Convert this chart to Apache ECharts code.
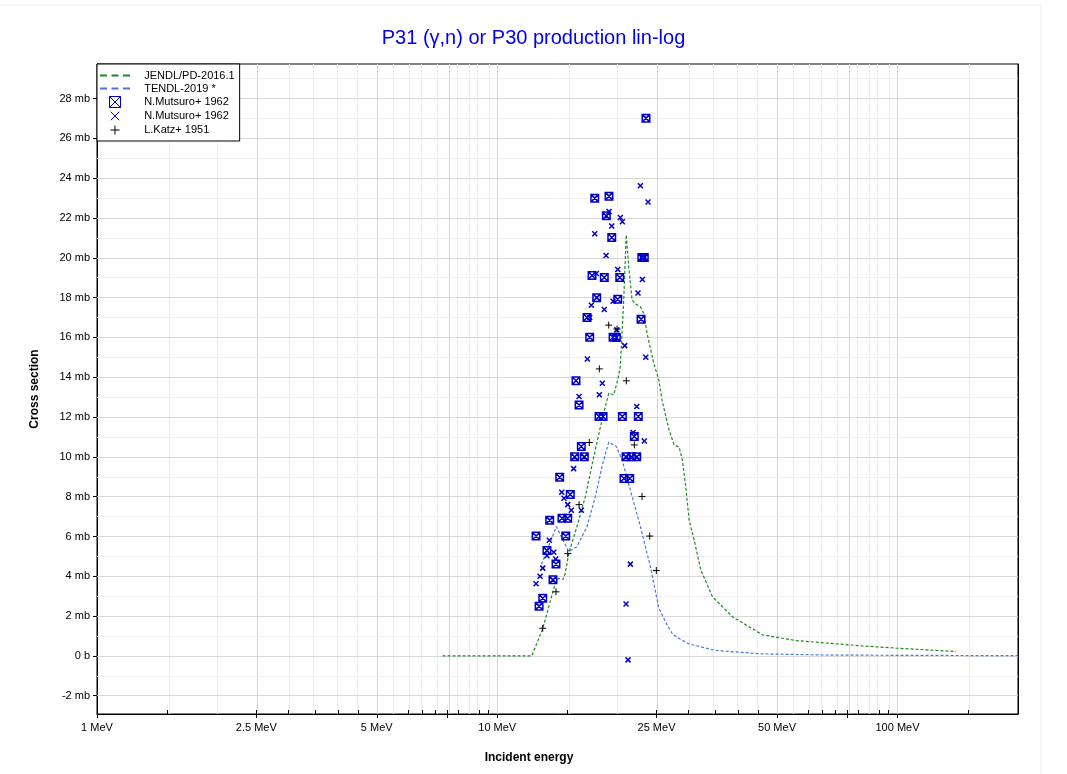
<!DOCTYPE html>
<html>
<head>
<meta charset="utf-8">
<script src="https://cdn.jsdelivr.net/npm/echarts@6/dist/echarts.min.js"></script>
<style>html,body{margin:0;padding:0;background:#fff}#chart{width:1067px;height:774px}</style>
</head>
<body>
<div id="chart"></div>
<script>
// ---------- data (energy in MeV, cross section in mb) ----------
const jendlE  = [7.3, 12.2, 13.0, 13.96, 14.24, 14.6, 14.79, 15.09, 15.82, 16.6, 17.42, 18.27, 18.99, 19.54, 20.0, 20.3, 20.7, 21.0, 21.3, 21.72, 22.13, 22.78, 23.23, 23.68, 24.6, 25.33, 25.8, 26.86, 27.66, 28.47, 29.0, 29.58, 30.15, 31.03, 32.25, 34.47, 38.68, 45.97, 55.7, 81.7, 99.1, 140];
const jendlXS = [0, 0, 1.39, 3.65, 3.9, 3.85, 4.15, 5.16, 6.5, 8.0, 10.0, 11.86, 13.2, 13.12, 13.87, 14.54, 17.89, 21.16, 19.56, 17.89, 17.69, 17.55, 17.22, 16.2, 14.7, 13.87, 12.86, 11.36, 10.6, 10.49, 9.85, 8.5, 6.83, 5.83, 4.32, 2.98, 1.97, 1.06, 0.77, 0.5, 0.39, 0.22];

const tendlE  = [12.9, 14.05, 15.09, 15.82, 16.76, 17.58, 18.27, 18.99, 19.84, 20.5, 21.5, 22.78, 24.13, 25.33, 26.5, 27.4, 28.6, 30.13, 35.16, 45.97, 67.5, 200];
const tendlXS = [4.6, 6.5, 5.24, 5.49, 6.5, 8.0, 9.51, 10.74, 10.52, 9.85, 8.34, 6.5, 4.49, 2.4, 1.6, 1.1, 0.85, 0.6, 0.27, 0.1, 0.04, 0.01];

const mutsuroBoxE  = [23.53, 17.52, 19.02, 18.73, 19.32, 22.97, 23.3, 17.25, 18.51, 20.23, 17.72, 20.0, 16.76, 22.87, 17.02, 19.47, 19.84, 15.73, 16.01, 17.96, 18.38, 20.54, 22.51, 22.0, 16.22, 15.61, 16.5, 20.98, 21.63, 22.31, 14.32, 20.73, 21.43, 15.22, 13.52, 14.51, 15.0, 12.5, 14.83, 13.31, 14.02, 13.78, 12.99, 12.72];
const mutsuroBoxXS = [27.02, 23.0, 23.1, 22.11, 21.02, 20.02, 20.02, 19.11, 19.01, 19.01, 18.0, 17.92, 17.0, 16.92, 16.01, 16.01, 16.0, 13.82, 12.61, 12.03, 12.03, 12.03, 12.03, 11.02, 10.52, 10.0, 10.0, 10.0, 10.0, 10.0, 8.98, 8.91, 8.91, 8.11, 6.82, 6.92, 6.92, 6.02, 6.02, 5.29, 4.62, 3.82, 2.9, 2.5];

const mutsuroCrossE  = [22.78, 23.81, 19.02, 20.3, 20.54, 19.32, 17.52, 18.7, 20.0, 17.68, 23.04, 22.47, 19.47, 17.18, 18.51, 17.02, 19.89, 20.82, 16.79, 23.5, 18.3, 16.01, 17.99, 22.31, 21.84, 23.3, 15.52, 14.49, 14.68, 15.0, 15.31, 16.22, 13.49, 13.84, 13.31, 14.0, 12.99, 12.79, 12.5, 21.5, 20.98, 21.22];
const mutsuroCrossXS = [23.62, 22.81, 22.33, 22.03, 21.81, 21.6, 21.21, 20.12, 19.41, 19.21, 18.91, 18.23, 17.82, 17.62, 17.4, 17.0, 16.38, 15.59, 14.92, 15.01, 13.7, 13.03, 13.12, 12.53, 11.22, 10.8, 9.41, 8.22, 7.92, 7.6, 7.32, 7.32, 5.81, 5.21, 5.03, 4.87, 4.41, 4.0, 3.62, 4.61, 2.61, -0.2];

const katzE  = [18.99, 19.92, 17.99, 21.01, 16.98, 22.0, 16.01, 23.0, 24.04, 24.97, 15.0, 14.02, 12.99];
const katzXS = [16.62, 16.42, 14.42, 13.82, 10.72, 10.6, 7.6, 8.01, 6.02, 4.29, 5.14, 3.22, 1.39];

// ---------- axis ticks ----------
const xLabelValues = [1, 2.5, 5, 10, 25, 50, 100];
const xMajorTickValues = [1, 2.5, 5, 7.5, 10, 25, 50, 75, 100];
const xMinorTickValues = [1.5, 2, 3, 3.5, 4, 4.5, 5.5, 6, 6.5, 7, 8, 8.5, 9, 9.5, 15, 20, 30, 35, 40, 45, 55, 60, 65, 70, 80, 85, 90, 95, 150];
const yLabelValues = [-2, 0, 2, 4, 6, 8, 10, 12, 14, 16, 18, 20, 22, 24, 26, 28];
const yMinorTickValues = [-1, 1, 3, 5, 7, 9, 11, 13, 15, 17, 19, 21, 23, 25, 27, 29];

// ---------- build ----------
const L = Math.log10;
const XMIN = 0, XMAX = L(200);
const YMIN = -2.92, YMAX = 29.74;
const FONT = 'Liberation Sans, Arial, sans-serif';
const GREEN = '#1e8a1e', TBLUE = '#4a78e0', MBLUE = '#0000c8';

const pts = (E, S) => E.map((e, i) => [L(e), S[i]]);

const BOX_PATH = 'path://M0,0L10,0L10,10L0,10Z M0,0L10,10 M10,0L0,10';
const X_PATH = 'path://M0,0L10,10 M10,0L0,10';
const PLUS_PATH = 'path://M5,0L5,10 M0,5L10,5';
const DASH_ICON = 'path://M0,0h7v2h-7z M11.5,0h7v2h-7z M23,0h7v2h-7z';
const X_ICON = 'path://M-1.5,-1.5 M0,0L10,10 M10,0L0,10 M11.5,11.5';
const PLUS_ICON = 'path://M-1,-1 M5,0L5,10 M0,5L10,5 M11,11';

const gridLines = [];
xMajorTickValues.filter(v => v > 1).forEach(v => gridLines.push({xAxis: L(v), lineStyle: {color: '#d4d4d4'}}));
xMinorTickValues.forEach(v => gridLines.push({xAxis: L(v), lineStyle: {color: '#efefef'}}));
yLabelValues.forEach(v => gridLines.push({yAxis: v, lineStyle: {color: '#d8d8d8'}}));
yMinorTickValues.forEach(v => gridLines.push({yAxis: v, lineStyle: {color: '#f0f0f0'}}));

const allYTicks = yLabelValues.concat(yMinorTickValues);
const allXTicks = xMajorTickValues.concat(xMinorTickValues).map(L);

const chart = echarts.init(document.getElementById('chart'), null, {renderer: 'canvas'});
chart.setOption({
  animation: false,
  backgroundColor: '#fff',
  textStyle: {fontFamily: FONT},
  title: {
    text: 'P31 (γ,n) or P30 production lin-log',
    left: 'center', top: 23,
    textStyle: {color: '#0000ee', fontSize: 20, fontWeight: 'normal', fontFamily: FONT}
  },
  graphic: [
    {type: 'rect', silent: true, z: -10, shape: {x: -2, y: 5, width: 1043, height: 780}, style: {fill: 'none', stroke: '#ebebeb', lineWidth: 1}},
    {type: 'text', silent: true, x: 529, y: 758, style: {text: 'Incident energy', fontSize: 12, fontWeight: 'bold', fontFamily: FONT, fill: '#000', align: 'center', verticalAlign: 'middle'}}
  ],
  grid: {left: 97, right: 49, top: 64, bottom: 60, show: true, borderColor: '#000', borderWidth: 1, backgroundColor: '#fff'},
  legend: {
    orient: 'vertical', left: 97, top: 64,
    padding: [6, 5, 5, 3], itemGap: 2, itemWidth: 30, itemHeight: 11,
    backgroundColor: '#fff', borderColor: '#000', borderWidth: 1,
    textStyle: {fontSize: 11, color: '#000', fontFamily: FONT},
    formatter: n => '   ' + n.replace(' (b)', ''),
    selectedMode: false,
    data: [
      {name: 'JENDL/PD-2016.1', icon: DASH_ICON, itemStyle: {color: GREEN, borderWidth: 0}},
      {name: 'TENDL-2019 *', icon: DASH_ICON, itemStyle: {color: TBLUE, borderWidth: 0}},
      {name: 'N.Mutsuro+ 1962', icon: BOX_PATH, itemStyle: {color: 'transparent', borderColor: MBLUE, borderWidth: 1}},
      {name: 'N.Mutsuro+ 1962 (b)', icon: X_ICON, itemStyle: {color: 'transparent', borderColor: MBLUE, borderWidth: 1}},
      {name: 'L.Katz+ 1951', icon: PLUS_ICON, itemStyle: {color: 'transparent', borderColor: '#000', borderWidth: 1}}
    ]
  },
  xAxis: [
    {
      type: 'value', min: XMIN, max: XMAX, position: 'bottom',
      axisLine: {show: true, onZero: false, lineStyle: {color: '#000', width: 1}},
      axisTick: {show: true, inside: false, length: 4, customValues: xMajorTickValues.map(L), lineStyle: {color: '#000'}},
      axisLabel: {
        customValues: xLabelValues.map(L), margin: 8, fontSize: 11, color: '#000', fontFamily: FONT,
        formatter: v => parseFloat(Math.pow(10, v).toPrecision(6)) + ' MeV'
      },
      splitLine: {show: false}
    },
    {
      type: 'value', min: XMIN, max: XMAX, position: 'bottom',
      axisLine: {show: false, onZero: false},
      axisTick: {show: true, inside: true, length: 4, customValues: allXTicks, lineStyle: {color: '#000'}},
      axisLabel: {show: false},
      splitLine: {show: false}
    }
  ],
  yAxis: [
    {
      type: 'value', min: YMIN, max: YMAX, position: 'left',
      name: 'Cross section', nameLocation: 'middle', nameGap: 56,
      nameTextStyle: {fontSize: 12, fontWeight: 'bold', color: '#000', fontFamily: FONT},
      axisLine: {show: true, onZero: false, lineStyle: {color: '#000', width: 1}},
      axisTick: {show: true, inside: false, length: 4, customValues: yLabelValues, lineStyle: {color: '#000'}},
      axisLabel: {
        customValues: yLabelValues, margin: 7, fontSize: 11, color: '#000', fontFamily: FONT,
        formatter: v => (v === 0 ? '0 b' : v + ' mb')
      },
      splitLine: {show: false}
    },
    {
      type: 'value', min: YMIN, max: YMAX, position: 'left',
      axisLine: {show: false, onZero: false},
      axisTick: {show: true, inside: true, length: 4, customValues: allYTicks, lineStyle: {color: '#000'}},
      axisLabel: {show: false},
      splitLine: {show: false}
    },
    {
      type: 'value', min: YMIN, max: YMAX, position: 'right',
      axisLine: {show: true, onZero: false, lineStyle: {color: '#000', width: 1}},
      axisTick: {show: true, inside: true, length: 4, customValues: allYTicks, lineStyle: {color: '#000'}},
      axisLabel: {show: false},
      splitLine: {show: false}
    }
  ],
  series: [
    {
      name: 'gridlines', type: 'line', data: [], z: 1, silent: true,
      xAxisIndex: 0, yAxisIndex: 0,
      markLine: {silent: true, z: 1, symbol: ['none', 'none'], label: {show: false}, emphasis: {disabled: true},
        lineStyle: {type: 'solid', width: 1}, data: gridLines}
    },
    {
      name: 'JENDL/PD-2016.1', type: 'line', z: 5, data: pts(jendlE, jendlXS),
      showSymbol: false, symbol: 'none', color: GREEN,
      lineStyle: {color: GREEN, width: 1.2, type: [3, 2]}, itemStyle: {color: GREEN}
    },
    {
      name: 'TENDL-2019 *', type: 'line', z: 4, data: pts(tendlE, tendlXS),
      showSymbol: false, symbol: 'none', color: TBLUE,
      lineStyle: {color: TBLUE, width: 1.2, type: [3, 2]}, itemStyle: {color: TBLUE}
    },
    {
      name: 'N.Mutsuro+ 1962', type: 'scatter', z: 6, data: pts(mutsuroBoxE, mutsuroBoxXS),
      symbol: BOX_PATH, symbolSize: 7.5,
      itemStyle: {color: 'transparent', borderColor: MBLUE, borderWidth: 1.5, opacity: 1}
    },
    {
      name: 'N.Mutsuro+ 1962 (b)', type: 'scatter', z: 6, data: pts(mutsuroCrossE, mutsuroCrossXS),
      symbol: X_PATH, symbolSize: 5,
      itemStyle: {color: 'transparent', borderColor: MBLUE, borderWidth: 1.5, opacity: 1}
    },
    {
      name: 'L.Katz+ 1951', type: 'scatter', z: 7, data: pts(katzE, katzXS),
      symbol: PLUS_PATH, symbolSize: 7,
      itemStyle: {color: 'transparent', borderColor: '#000', borderWidth: 1, opacity: 1}
    }
  ]
});
</script>
</body>
</html>
